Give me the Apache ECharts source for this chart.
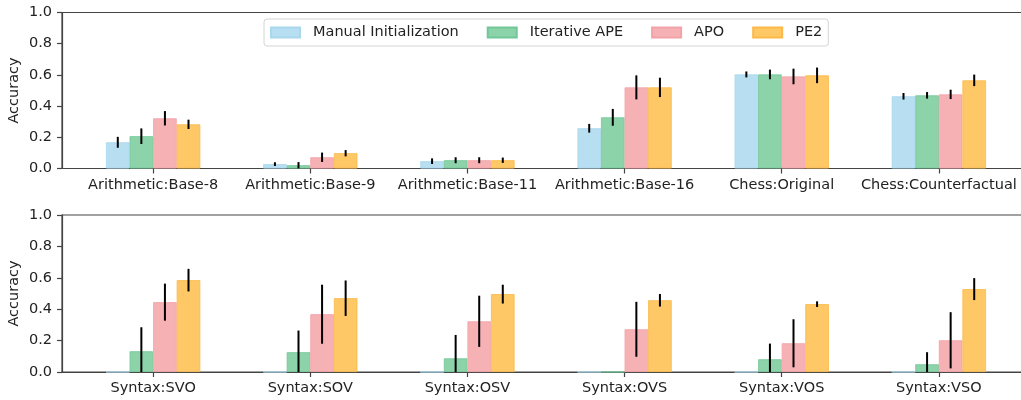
<!DOCTYPE html>
<html>
<head>
<meta charset="utf-8">
<script src="https://cdn.jsdelivr.net/npm/echarts@6/dist/echarts.min.js"></script>
<style>
    html, body { margin: 0; padding: 0; background: #fff; }
    #chart { width: 1021px; height: 400px; }
</style>
</head>
<body>
<div id="chart"></div>
<script>
// ======================
// DATA
// ======================

const topCategories = ['Arithmetic:Base-8', 'Arithmetic:Base-9', 'Arithmetic:Base-11', 'Arithmetic:Base-16', 'Chess:Original', 'Chess:Counterfactual'];
const bottomCategories = ['Syntax:SVO', 'Syntax:SOV', 'Syntax:OSV', 'Syntax:OVS', 'Syntax:VOS', 'Syntax:VSO'];
const methods = ['Manual Initialization', 'Iterative APE', 'APO', 'PE2'];
const yTicks = [0, 0.2, 0.4, 0.6, 0.8, 1.0];

// top panel (mean, error)
const manualTop = [0.168, 0.028, 0.047, 0.258, 0.603, 0.463];
const manualTopErr = [0.035, 0.012, 0.018, 0.028, 0.019, 0.021];
const iterTop = [0.207, 0.021, 0.053, 0.328, 0.603, 0.469];
const iterTopErr = [0.050, 0.020, 0.019, 0.054, 0.031, 0.021];
const apoTop = [0.322, 0.072, 0.053, 0.520, 0.590, 0.475];
const apoTopErr = [0.046, 0.030, 0.019, 0.077, 0.050, 0.030];
const pe2Top = [0.283, 0.098, 0.053, 0.520, 0.597, 0.565];
const pe2TopErr = [0.030, 0.020, 0.017, 0.062, 0.050, 0.037];

// bottom panel (mean, error)
const manualBottom = [0, 0, 0, 0, 0, 0];
const manualBottomErr = [0, 0, 0, 0, 0, 0];
const iterBottom = [0.132, 0.126, 0.087, 0, 0.081, 0.049];
const iterBottomErr = [0.153, 0.138, 0.149, 0, 0.100, 0.077];
const apoBottom = [0.445, 0.368, 0.323, 0.272, 0.183, 0.202];
const apoBottomErr = [0.118, 0.188, 0.163, 0.175, 0.153, 0.179];
const pe2Bottom = [0.585, 0.470, 0.496, 0.457, 0.432, 0.528];
const pe2BottomErr = [0.072, 0.113, 0.060, 0.040, 0.018, 0.070];

// ======================
// STYLE
// ======================

const colors = ['#b7dff1', '#8dd3aa', '#f6b1b4', '#fec867'];
const edgeColors = ['#a9d8ee', '#72c799', '#f2a3a7', '#fbb948'];
const FONT = 'DejaVu Sans';
const FS = 14.5;
const X_MIN = -0.58;
const X_MAX = 5.58;
const GRID_LEFT = 62;
const GRID_WIDTH = 968;
const BAR_W = 0.15;
const barPx = BAR_W * GRID_WIDTH / (X_MAX - X_MIN);

const chart = echarts.init(document.getElementById('chart'), null, { renderer: 'canvas' });

function makeX(gridIndex, cats) {
    return {
        type: 'value',
        gridIndex: gridIndex,
        min: X_MIN,
        max: X_MAX,
        splitLine: { show: false },
        axisLine: { show: true, onZero: false, lineStyle: { color: '#444', width: 1.2 } },
        axisTick: { show: true, length: 5, customValues: cats.map((c, i) => i), lineStyle: { color: '#444', width: 1.2 } },
        axisLabel: {
            customValues: cats.map((c, i) => i),
            formatter: v => cats[Math.round(v)],
            margin: 9,
            fontFamily: FONT, fontSize: FS, color: '#222'
        }
    };
}

function makeY(gridIndex) {
    return {
        type: 'value',
        gridIndex: gridIndex,
        min: 0,
        max: 1,
        interval: 0.2,
        name: 'Accuracy',
        nameLocation: 'middle',
        nameGap: 40,
        nameMoveOverlap: false,
        nameTextStyle: { fontFamily: FONT, fontSize: FS, color: '#222' },
        splitLine: { show: false },
        axisLine: { show: true, onZero: false, lineStyle: { color: '#444', width: 1.2 } },
        axisTick: { show: true, length: 5, lineStyle: { color: '#444', width: 1.2 } },
        axisLabel: {
            formatter: v => v.toFixed(1),
            margin: 10,
            fontFamily: FONT, fontSize: FS, color: '#222'
        }
    };
}

function barSeries(k, axisIndex, values) {
    return {
        name: methods[k],
        type: 'bar',
        xAxisIndex: axisIndex,
        yAxisIndex: axisIndex,
        barWidth: barPx,
        barGap: '0%',
        data: values.map((v, i) => [i, v]),
        itemStyle: { color: colors[k], borderColor: edgeColors[k], borderWidth: 0.8 },
        silent: true,
        z: 2
    };
}

function errSeries(k, axisIndex, values, errs) {
    return {
        type: 'custom',
        xAxisIndex: axisIndex,
        yAxisIndex: axisIndex,
        data: values.map((v, i) => [i, v, errs[i]]),
        encode: { x: 0, y: 1 },
        silent: true,
        z: 5,
        renderItem: function (params, api) {
            const x = api.value(0);
            const y = api.value(1);
            const e = api.value(2);
            if (!e) return null;
            const off = (k - 1.5) * api.size([BAR_W, 0])[0];
            const lo = api.coord([x, Math.max(0, y - e)]);
            const hi = api.coord([x, Math.min(1, y + e)]);
            return {
                type: 'line',
                shape: { x1: lo[0] + off, y1: lo[1], x2: hi[0] + off, y2: hi[1] },
                style: { stroke: '#000', lineWidth: 2 }
            };
        }
    };
}

const topVals = [manualTop, iterTop, apoTop, pe2Top];
const topErrs = [manualTopErr, iterTopErr, apoTopErr, pe2TopErr];
const bottomVals = [manualBottom, iterBottom, apoBottom, pe2Bottom];
const bottomErrs = [manualBottomErr, iterBottomErr, apoBottomErr, pe2BottomErr];

const series = [];
methods.forEach((m, k) => series.push(barSeries(k, 0, topVals[k])));
methods.forEach((m, k) => series.push(barSeries(k, 1, bottomVals[k])));
methods.forEach((m, k) => series.push(errSeries(k, 0, topVals[k], topErrs[k])));
methods.forEach((m, k) => series.push(errSeries(k, 1, bottomVals[k], bottomErrs[k])));

chart.setOption({
    animation: false,
    backgroundColor: '#fff',
    grid: [
        { left: GRID_LEFT, width: GRID_WIDTH, top: 12.5, height: 156, outerBoundsMode: 'none', show: true, borderColor: '#444', borderWidth: 1.2, backgroundColor: 'transparent' },
        { left: GRID_LEFT, width: GRID_WIDTH, top: 215, height: 157, outerBoundsMode: 'none', show: true, borderColor: '#444', borderWidth: 1.2, backgroundColor: 'transparent' }
    ],
    legend: {
        data: methods,
        left: 264,
        top: 19,
        icon: 'rect',
        itemWidth: 29,
        itemHeight: 10,
        itemGap: 28,
        padding: [6, 6, 6, 6],
        borderColor: '#d4d4d4',
        borderWidth: 1,
        borderRadius: 3,
        backgroundColor: 'rgba(255,255,255,0.8)',
        textStyle: { fontFamily: FONT, fontSize: FS, color: '#222', padding: [0, 0, 0, 8] }
    },
    xAxis: [makeX(0, topCategories), makeX(1, bottomCategories)],
    yAxis: [makeY(0), makeY(1)],
    series: series
});
</script>
</body>
</html>
